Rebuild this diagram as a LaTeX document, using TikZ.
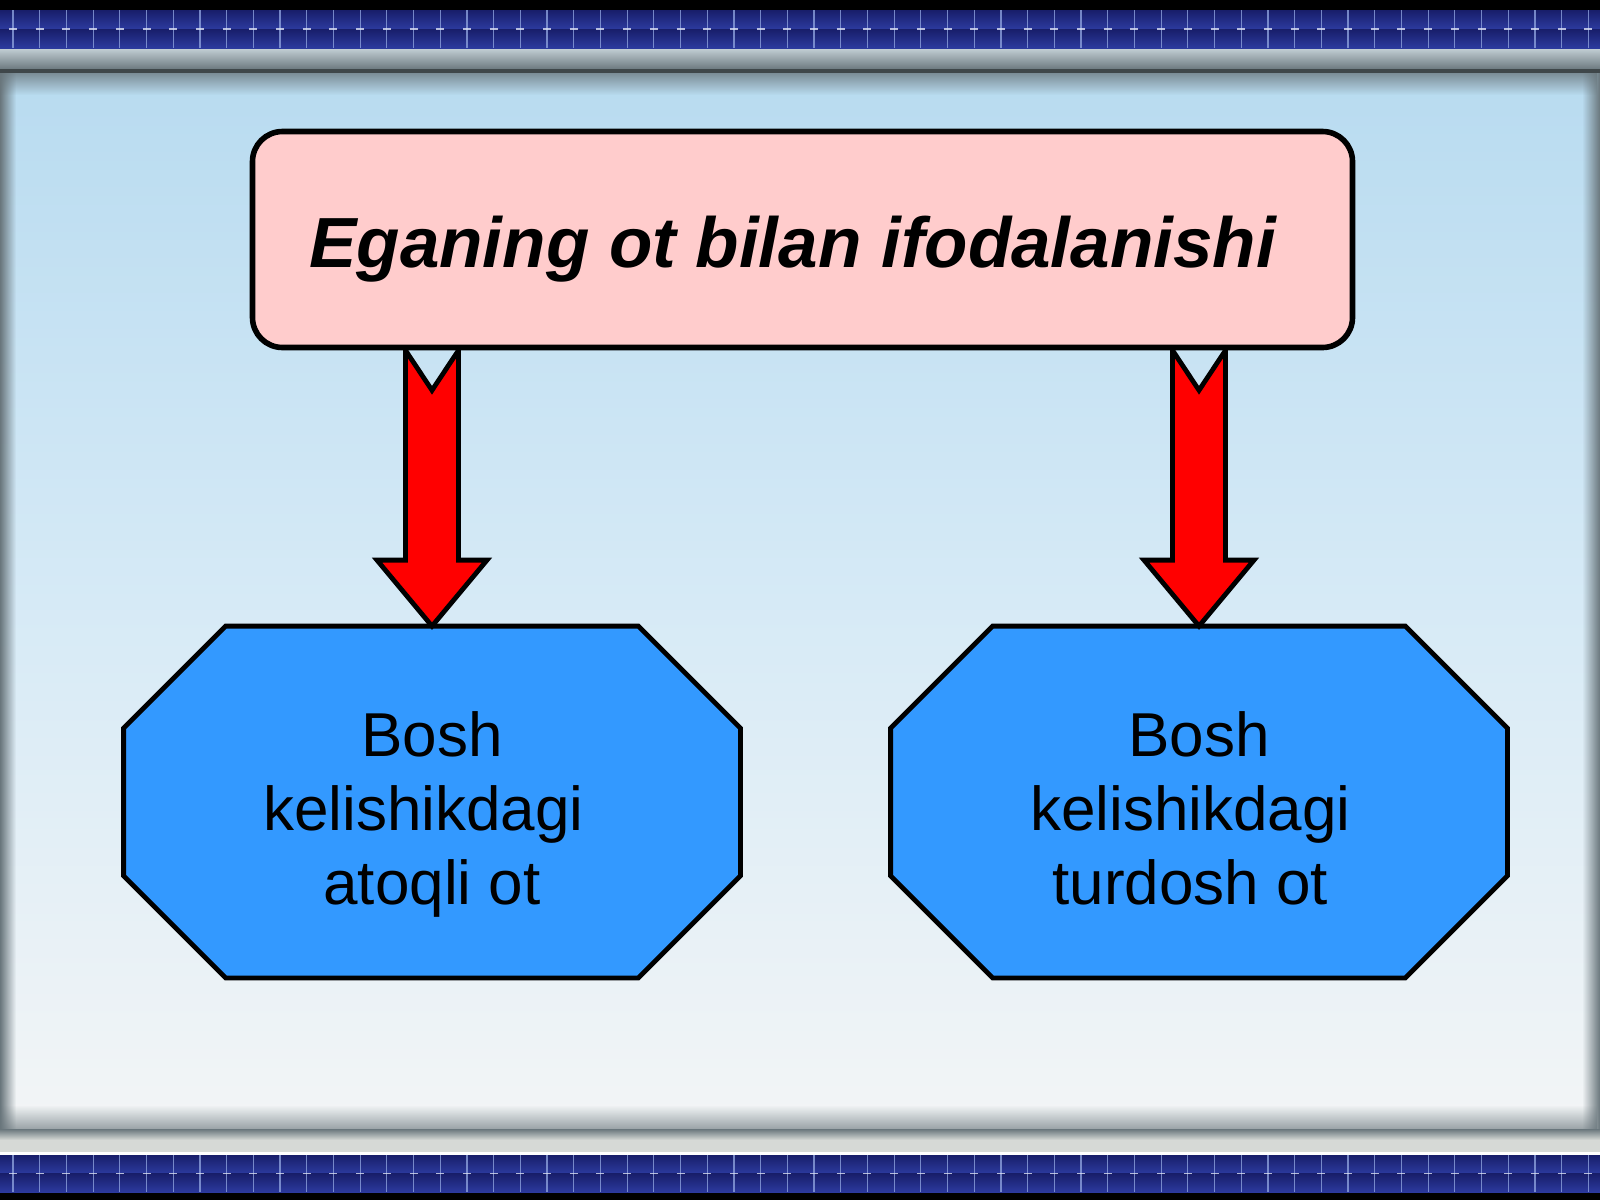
\documentclass[tikz,border=0pt]{standalone}
\usepackage{fontspec}
\setmainfont{Liberation Sans}
\usetikzlibrary{calc,fadings}
\pgfdeclarelayer{backdrop}
\pgfdeclarelayer{shapes}
\pgfsetlayers{backdrop,shapes,main}
\definecolor{panelTop}{RGB}{184,219,240}
\definecolor{panelMid}{RGB}{214,234,246}
\definecolor{panelBot}{RGB}{243,245,246}
\definecolor{tileBlue}{RGB}{44,58,158}
\definecolor{tileDark}{RGB}{24,30,106}
\definecolor{tileLine}{RGB}{140,160,220}
\definecolor{pinkFill}{RGB}{255,204,204}
\definecolor{octBlue}{RGB}{51,153,255}
\definecolor{arrowRed}{RGB}{255,0,0}
\definecolor{barLight}{RGB}{200,212,218}
\definecolor{barDark}{RGB}{105,118,124}
\definecolor{barGrey}{RGB}{214,217,214}
\tikzfading[name=faderight, left color=transparent!0, right color=transparent!100]
\tikzfading[name=fadeleft, left color=transparent!100, right color=transparent!0]
\tikzfading[name=fadedown, top color=transparent!0, bottom color=transparent!100]
\tikzfading[name=fadeup, top color=transparent!100, bottom color=transparent!0]
\begin{document}
\begin{tikzpicture}[x=0.5pt,y=-0.5pt,
  titlebox/.style={draw=black, line width=2.8pt, fill=pinkFill, rounded corners=15pt,
    minimum width=550pt, minimum height=108pt, inner sep=0pt,
    text height=28pt, text depth=0pt,
    font=\fontsize{35.5}{42}\selectfont\bfseries\itshape},
  octtext/.style={minimum width=308pt, minimum height=175.5pt, inner sep=0pt,
    align=center, font=\fontsize{31}{37}\selectfont},
  octshape/.style={draw=black, line width=2.4pt, fill=octBlue, line join=miter},
  blockarrow/.style={draw=black, line width=2.4pt, fill=arrowRed, line join=miter}]
\useasboundingbox (0,0) rectangle (1600,1200);

\node[titlebox] (title) at (802.5,239.5) {Eganing ot bilan ifodalanishi\hspace*{10pt}};
\node[octtext] (left) at (432,802) {\rule{0pt}{28.5pt}Bosh\\kelishikdagi\rule{8.6pt}{0pt}\\\smash{atoqli ot}};
\node[octtext] (right) at (1199,802) {\rule{0pt}{28.5pt}Bosh\\kelishikdagi\rule{8.6pt}{0pt}\\turdosh ot\rule{8.6pt}{0pt}};

\begin{pgfonlayer}{shapes}
\foreach \nm in {left,right}{
  \draw[octshape] ([xshift=51pt]\nm.north west) -- ([xshift=-51pt]\nm.north east)
    -- ([yshift=-51pt]\nm.north east) -- ([yshift=51pt]\nm.south east)
    -- ([xshift=-51pt]\nm.south east) -- ([xshift=51pt]\nm.south west)
    -- ([yshift=51pt]\nm.south west) -- ([yshift=-51pt]\nm.north west) -- cycle;
  \draw[blockarrow] let \p1=(\nm.north |- title.south), \p2=(\nm.north) in
    (\x1-13.25pt,\y1) -- (\x1,\y1-20pt) -- (\x1+13.25pt,\y1) -- (\x1+13.25pt,\y2+33pt)
    -- (\x1+27.5pt,\y2+33pt) -- (\x2,\y2) -- (\x1-27.5pt,\y2+33pt)
    -- (\x1-13.25pt,\y2+33pt) -- cycle;
}
\end{pgfonlayer}

\begin{pgfonlayer}{backdrop}
\fill[black] (0,0) rectangle (1600,1200);
\shade[top color=panelTop, bottom color=panelMid] (0,72) rectangle (1600,602);
\shade[top color=panelMid, bottom color=panelBot] (0,600) rectangle (1600,1131);
\fill[barDark, path fading=faderight] (0,72) rectangle (16,1131);
\fill[barDark, path fading=fadeleft] (1582,72) rectangle (1600,1131);
\fill[barDark, path fading=fadedown, fill opacity=0.8] (0,72) rectangle (1600,95);
\fill[barDark, path fading=fadeup, fill opacity=0.7] (0,1105) rectangle (1600,1131);
\shade[top color=barLight, bottom color=barDark] (0,47) rectangle (1600,70);
\fill[black!40!barDark] (0,69) rectangle (1600,73);
\shade[top color=barDark, bottom color=barGrey] (0,1129) rectangle (1600,1140);
\fill[barGrey] (0,1140) rectangle (1600,1152);
\fill[white] (0,1152) rectangle (1600,1155);
\foreach \yt/\yb in {10/48,1155/1192}{
  \pgfmathsetmacro{\ym}{(\yt+\yb)/2}
  \shade[top color=tileDark, bottom color=tileBlue] (0,\yt) rectangle (1600,\ym);
  \shade[top color=tileDark, bottom color=tileBlue] (0,\ym) rectangle (1600,\yb);
  \foreach \k in {0,...,60}{
    \draw[tileLine, line width=0.6pt, opacity=0.8] ({13+26.7*\k},\yt) -- ({13+26.7*\k},\yb);
    \draw[white!70!tileLine, line width=0.6pt, opacity=0.8] ({13+26.7*\k-4},\ym) -- ({13+26.7*\k+4},\ym);
  }
}
\end{pgfonlayer}
\end{tikzpicture}
\end{document}
